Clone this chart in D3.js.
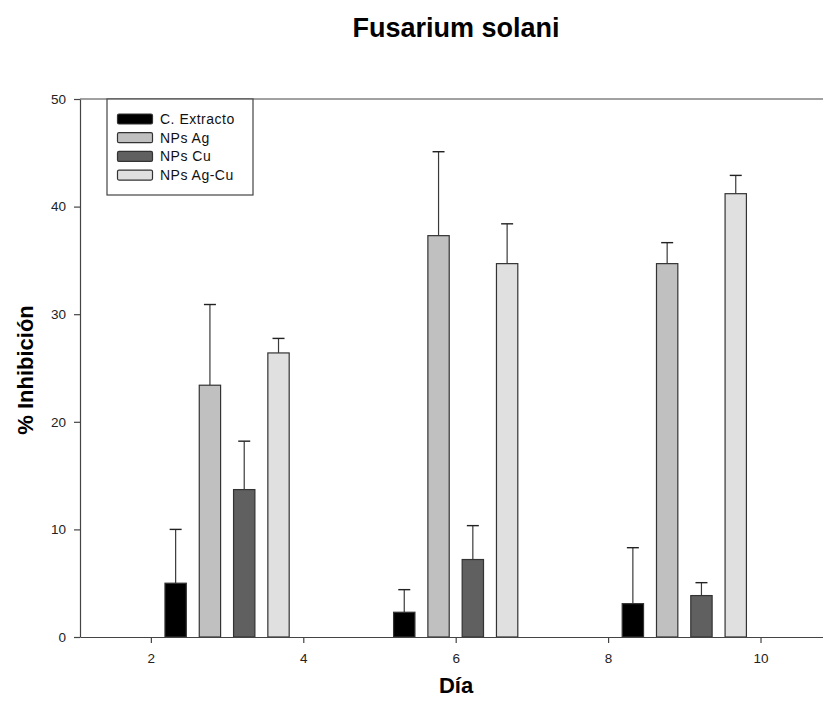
<!DOCTYPE html>
<html>
<head>
<meta charset="utf-8">
<script src="https://cdn.jsdelivr.net/npm/d3@7"></script>
<style>
  body { margin: 0; background: #fff; }
  svg { display: block; font-family: "Liberation Sans", Arial, sans-serif; }
</style>
</head>
<body>
<svg id="chart" width="823" height="705"></svg>
<script>
// data
const days = [3, 6, 9];
const series = ["C. Extracto", "NPs Ag", "NPs Cu", "NPs Ag-Cu"];
const colors = ["#000000", "#c0c0c0", "#606060", "#e0e0e0"];
const extracto = [5.0, 2.3, 3.1];
const extractoErr = [5.0, 2.1, 5.2];
const npsAg = [23.4, 37.3, 34.7];
const npsAgErr = [7.5, 7.8, 1.95];
const npsCu = [13.7, 7.2, 3.85];
const npsCuErr = [4.5, 3.15, 1.2];
const npsAgCu = [26.4, 34.7, 41.2];
const npsAgCuErr = [1.35, 3.7, 1.7];
const xTicks = [2, 4, 6, 8, 10];
const yTicks = [0, 10, 20, 30, 40, 50];

const values = [extracto, npsAg, npsCu, npsAgCu];
const errors = [extractoErr, npsAgErr, npsCuErr, npsAgCuErr];

const svg = d3.select("#chart");
const plotLeft = 80, plotRight = 823, plotTop = 99, plotBottom = 637;

let x = d3.scaleLinear().domain([1.07, 10.82]).range([plotLeft, plotRight]);
let y = d3.scaleLinear().domain([0, 50]).range([plotBottom, plotTop]);

const step = 0.45, barW = 0.28;

// title
svg.append("text")
	.attr("x", 456).attr("y", 37)
	.attr("text-anchor", "middle")
	.style("font-size", "27px").style("font-weight", "bold")
	.text("Fusarium solani");

// bars
let rows = [];
series.forEach(function(s, si) {
	days.forEach(function(d, di) {
		rows.push({ s: si, day: d, v: values[si][di], e: errors[si][di] });
	});
});

let g = svg.append("g");

// error bars (drawn first so bar outline stays clean)
let err = g.selectAll(".err").data(rows).enter().append("g").attr("class", "err");
err.append("line")
	.attr("x1", function(d) { return x(d.day + (d.s - 1.5) * step); })
	.attr("x2", function(d) { return x(d.day + (d.s - 1.5) * step); })
	.attr("y1", function(d) { return y(d.v); })
	.attr("y2", function(d) { return y(d.v + d.e); })
	.attr("stroke", "#3a3a3a").attr("stroke-width", 1.2);
err.append("line")
	.attr("x1", function(d) { return x(d.day + (d.s - 1.5) * step) - 6; })
	.attr("x2", function(d) { return x(d.day + (d.s - 1.5) * step) + 6; })
	.attr("y1", function(d) { return y(d.v + d.e); })
	.attr("y2", function(d) { return y(d.v + d.e); })
	.attr("stroke", "#222").attr("stroke-width", 1.4);

g.selectAll("rect.bar").data(rows).enter().append("rect")
	.attr("class", "bar")
	.attr("x", function(d) { return x(d.day + (d.s - 1.5) * step - barW / 2); })
	.attr("width", function(d) { return x(barW) - x(0); })
	.attr("y", function(d) { return y(d.v); })
	.attr("height", function(d) { return y(0) - y(d.v); })
	.attr("fill", function(d) { return colors[d.s]; })
	.attr("stroke", "#333").attr("stroke-width", 1.2);

// axes
let xAxis = svg.append("g")
	.attr("transform", "translate(0," + plotBottom + ")")
	.call(d3.axisBottom(x).tickValues(xTicks).tickSize(6).tickPadding(10).tickSizeOuter(0));
let yAxis = svg.append("g")
	.attr("transform", "translate(" + plotLeft + ",0)")
	.call(d3.axisLeft(y).tickValues(yTicks).tickSize(6).tickPadding(8).tickSizeOuter(0));

[xAxis, yAxis].forEach(function(a) {
	a.select(".domain").attr("stroke", "#444").attr("stroke-width", 1.2);
	a.selectAll(".tick line").attr("stroke", "#444").attr("stroke-width", 1.2);
	a.selectAll(".tick text").style("font-size", "13.5px").attr("fill", "#222")
		.style("font-family", "'Liberation Sans', Arial, sans-serif");
});

// top frame line
svg.append("line")
	.attr("x1", plotLeft).attr("x2", plotRight)
	.attr("y1", y(50)).attr("y2", y(50))
	.attr("stroke", "#444").attr("stroke-width", 1.2);

// axis titles
svg.append("text")
	.attr("x", 456).attr("y", 693)
	.attr("text-anchor", "middle")
	.style("font-size", "22px").style("font-weight", "bold")
	.text("Día");
svg.append("text")
	.attr("transform", "translate(33,370) rotate(-90)")
	.attr("text-anchor", "middle")
	.style("font-size", "22px").style("font-weight", "bold")
	.text("% Inhibición");

// legend
let leg = svg.append("g");
leg.append("rect")
	.attr("x", 107).attr("y", plotTop).attr("width", 146).attr("height", 96)
	.attr("fill", "#fff").attr("stroke", "#444").attr("stroke-width", 1.2);
let item = leg.selectAll(".item").data(series).enter().append("g")
	.attr("transform", function(d, i) { return "translate(117," + (119 + i * 18.7) + ")"; });
item.append("rect")
	.attr("x", 0.5).attr("y", -5).attr("width", 35).attr("height", 10).attr("rx", 1.5)
	.attr("fill", function(d, i) { return colors[i]; })
	.attr("stroke", "#333").attr("stroke-width", 1.2);
item.append("text")
	.attr("x", 43).attr("y", 5)
	.style("font-size", "14px").style("letter-spacing", "0.5px").attr("fill", "#111")
	.text(function(d) { return d; });
</script>
</body>
</html>
